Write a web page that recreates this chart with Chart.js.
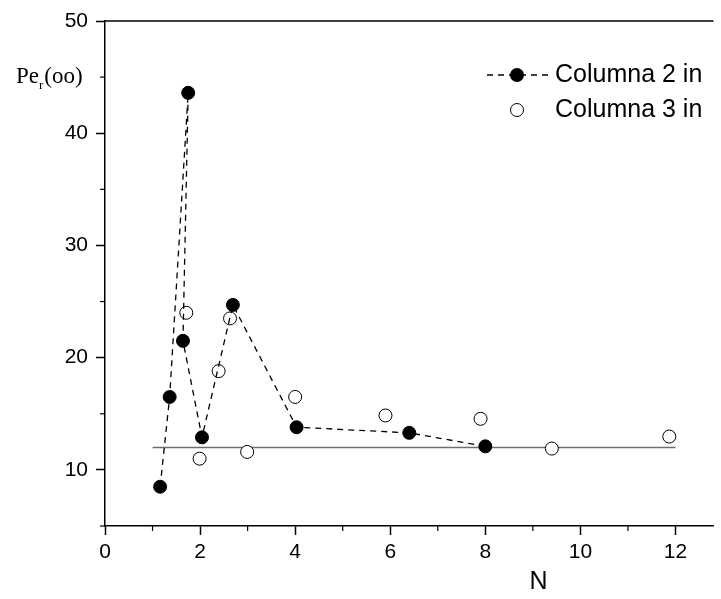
<!DOCTYPE html>
<html>
<head>
<meta charset="utf-8">
<script src="https://cdn.jsdelivr.net/npm/chart.js@4/dist/chart.umd.min.js"></script>
<style>
html,body{margin:0;padding:0;background:#fff;}
canvas{display:block;}
</style>
</head>
<body>
<canvas id="c" width="721" height="599"></canvas>
<script>
// Columna 2 in (filled, dashed line, in plotted order)
const col2N   = [1.16, 1.36, 1.75, 1.64, 2.04, 2.69, 4.03, 6.40, 8.00];
const col2Val = [8.5, 16.5, 43.6, 21.5, 12.9, 24.7, 13.8, 13.3, 12.1];
// Columna 3 in (open circles)
const col3N   = [1.71, 1.99, 2.39, 2.63, 2.99, 4.00, 5.90, 7.90, 9.40, 11.87];
const col3Val = [24.0, 11.0, 18.8, 23.5, 11.6, 16.5, 14.85, 14.55, 11.9, 12.97];
// Reference horizontal line
const refN   = [1.0, 12.0];
const refVal = [12.0, 12.0];
// Axis ticks
const xTicks = [0,1,2,3,4,5,6,7,8,9,10,11,12];
const xLabels = ['0','','2','','4','','6','','8','','10','','12'];
const yTicks = [5,10,15,20,25,30,35,40,45,50];
const yLabels = ['','10','','20','','30','','40','','50'];
const legendLabels = ['Columna 2 in', 'Columna 3 in'];
const xTitle = 'N';

const pts = (xs, ys) => xs.map((x, i) => ({x: x, y: ys[i]}));

Chart.defaults.font.family = "'Liberation Sans', Arial, sans-serif";
Chart.defaults.color = '#000';

const extras = {
  id: 'extras',
  afterDraw(chart) {
    const ctx = chart.ctx;
    const a = chart.chartArea;
    const xs = chart.scales.x, ys = chart.scales.y;
    ctx.save();
    // top border
    ctx.strokeStyle = '#000';
    ctx.lineWidth = 1.5;
    ctx.beginPath();
    ctx.moveTo(a.left, a.top);
    ctx.lineTo(a.right, a.top);
    ctx.stroke();
    // minor ticks
    ctx.lineWidth = 1.2;
    xTicks.forEach((v, i) => {
      if (xLabels[i] === '') {
        const px = xs.getPixelForValue(v);
        ctx.beginPath(); ctx.moveTo(px, a.bottom); ctx.lineTo(px, a.bottom + 5); ctx.stroke();
      }
    });
    yTicks.forEach((v, i) => {
      if (yLabels[i] === '') {
        const py = ys.getPixelForValue(v);
        ctx.beginPath(); ctx.moveTo(a.left, py); ctx.lineTo(a.left - 5, py); ctx.stroke();
      }
    });
    // legend
    const lx = 517, ly1 = 75, ly2 = 110;
    ctx.lineWidth = 1.3;
    ctx.setLineDash([6, 5]);
    ctx.beginPath(); ctx.moveTo(487, ly1); ctx.lineTo(548, ly1); ctx.stroke();
    ctx.setLineDash([]);
    ctx.fillStyle = '#000';
    ctx.beginPath(); ctx.arc(lx, ly1, 7, 0, Math.PI * 2); ctx.fill();
    ctx.fillStyle = '#fff';
    ctx.lineWidth = 1;
    ctx.beginPath(); ctx.arc(lx, ly2, 6.5, 0, Math.PI * 2); ctx.fill(); ctx.stroke();
    ctx.fillStyle = '#000';
    ctx.font = "25px 'Liberation Sans', Arial, sans-serif";
    ctx.textBaseline = 'middle';
    ctx.textAlign = 'left';
    ctx.fillText(legendLabels[0], 555, ly1);
    ctx.fillText(legendLabels[1], 555, ly2);
    // x title
    ctx.font = "25px 'Liberation Sans', Arial, sans-serif";
    ctx.textAlign = 'center';
    ctx.fillText(xTitle, xs.getPixelForValue(9.12), 582);
    // y title Pe_r(oo)
    ctx.textBaseline = 'alphabetic';
    ctx.textAlign = 'left';
    ctx.font = "23px 'Liberation Serif', 'Times New Roman', serif";
    let x = 16;
    const base = 83;
    ctx.fillText('Pe', x, base);
    x += ctx.measureText('Pe').width;
    ctx.font = "13px 'Liberation Serif', 'Times New Roman', serif";
    ctx.fillText('r', x, base + 6);
    x += ctx.measureText('r').width + 1;
    ctx.font = "23px 'Liberation Serif', 'Times New Roman', serif";
    ctx.fillText('(oo)', x, base);
    ctx.restore();
  }
};

new Chart(document.getElementById('c'), {
  type: 'scatter',
  data: {
    datasets: [
      {
        label: legendLabels[0],
        data: pts(col2N, col2Val),
        showLine: true,
        borderColor: '#000',
        borderWidth: 1.3,
        borderDash: [6, 5],
        pointRadius: 6.5,
        pointBorderWidth: 1,
        pointBackgroundColor: '#000',
        pointBorderColor: '#000',
        fill: false,
        tension: 0
      },
      {
        label: legendLabels[1],
        data: pts(col3N, col3Val),
        showLine: false,
        pointRadius: 6.5,
        pointBorderWidth: 1,
        pointBackgroundColor: '#fff',
        pointBorderColor: '#000'
      },
      {
        label: 'ref',
        data: pts(refN, refVal),
        showLine: true,
        borderColor: '#6e6e6e',
        borderWidth: 1.5,
        pointRadius: 0,
        fill: false
      }
    ]
  },
  options: {
    responsive: false,
    animation: false,
    layout: {padding: {top: 21, right: 0, bottom: 0, left: 0}},
    plugins: {legend: {display: false}, tooltip: {enabled: false}},
    scales: {
      x: {
        type: 'linear',
        min: 0,
        max: 12.8,
        afterBuildTicks: (s) => { s.ticks = xTicks.map(v => ({value: v})); },
        afterFit: (s) => { s.height = 73; },
        ticks: {
          autoSkip: false,
          maxRotation: 0,
          padding: 5,
          font: {size: 21},
          color: '#000',
          callback: (v, i) => xLabels[i]
        },
        grid: {
          drawOnChartArea: false,
          drawTicks: true,
          tickLength: 9,
          tickWidth: 1.5,
          tickColor: (c) => (c.tick && xLabels[xTicks.indexOf(c.tick.value)] !== '') ? '#000' : 'rgba(0,0,0,0)'
        },
        border: {display: true, color: '#000', width: 1.5}
      },
      y: {
        type: 'linear',
        min: 5,
        max: 50,
        afterBuildTicks: (s) => { s.ticks = yTicks.map(v => ({value: v})); },
        afterFit: (s) => { s.width = 105; },
        ticks: {
          autoSkip: false,
          padding: 8,
          font: {size: 21},
          color: '#000',
          callback: (v, i) => yLabels[i]
        },
        grid: {
          drawOnChartArea: false,
          drawTicks: true,
          tickLength: 9,
          tickWidth: 1.5,
          tickColor: (c) => (c.tick && yLabels[yTicks.indexOf(c.tick.value)] !== '') ? '#000' : 'rgba(0,0,0,0)'
        },
        border: {display: true, color: '#000', width: 1.5}
      }
    }
  },
  plugins: [extras]
});
</script>
</body>
</html>
